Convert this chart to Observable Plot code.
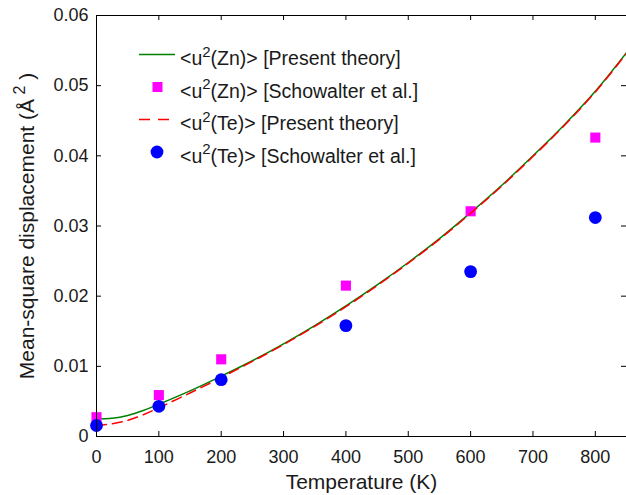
<!DOCTYPE html>
<html><head><meta charset="utf-8">
<script src="https://cdn.jsdelivr.net/npm/d3@7"></script>
<script src="https://cdn.jsdelivr.net/npm/@observablehq/plot@0.6"></script>
<style>
body{margin:0;background:#fff;}
#chart{position:relative;width:626px;height:495px;}
</style></head><body><div id="chart"></div>
<script>
// Theory curves
const temps    = [0, 25, 50, 75, 100, 150, 200, 250, 300, 350, 400, 450, 500, 550, 600, 650, 700, 750, 800, 850];
const znTheory = [0.0025, 0.0026, 0.0030, 0.0037, 0.0046, 0.0065, 0.0086, 0.0108, 0.0132, 0.0158, 0.0186, 0.0216, 0.0248, 0.0282, 0.0319, 0.0358, 0.0400, 0.0444, 0.0492, 0.0547];
const teTheory = [0.0016, 0.0018, 0.0023, 0.0031, 0.0041, 0.0062, 0.0084, 0.0107, 0.0131, 0.0157, 0.0185, 0.0215, 0.0247, 0.0281, 0.0318, 0.0357, 0.0399, 0.0443, 0.0491, 0.0546];
// Schowalter et al. points
const expTemps = [0, 100, 200, 400, 600, 800];
const znExp    = [0.00275, 0.0059, 0.0110, 0.0215, 0.0321, 0.0426];
const teExp    = [0.00157, 0.0043, 0.0081, 0.0158, 0.0235, 0.0312];
// ticks & labels
const xTicks = [0, 100, 200, 300, 400, 500, 600, 700, 800];
const yTicks = [0, 0.01, 0.02, 0.03, 0.04, 0.05, 0.06];
const xLabel = "Temperature (K)";
const yLabelParts = ["Mean-square displacement (Å", " 2", " )"];
const legendItems = [
  {pre: "<u", sup: "2", post: "(Zn)> [Present theory]", kind: "line", color: "#008000"},
  {pre: "<u", sup: "2", post: "(Zn)> [Schowalter et al.]", kind: "square", color: "#ff00ff"},
  {pre: "<u", sup: "2", post: "(Te)> [Present theory]", kind: "dash", color: "#ff0000"},
  {pre: "<u", sup: "2", post: "(Te)> [Schowalter et al.]", kind: "circle", color: "#0000ff"}
];

const znLine = temps.map((t, i) => ({t, v: znTheory[i]}));
const teLine = temps.map((t, i) => ({t, v: teTheory[i]}));
const znPts = expTemps.map((t, i) => ({t, v: znExp[i]}));
const tePts = expTemps.map((t, i) => ({t, v: teExp[i]}));

const W = 626, H = 495, mL = 96, mR = 0, mT = 15, mB = 59;
const pw = W - mL - mR, ph = H - mT - mB, tk = 5;

const plot = Plot.plot({
  width: W, height: H,
  marginLeft: mL, marginRight: mR, marginTop: mT, marginBottom: mB,
  style: {fontFamily: "'Liberation Sans', Arial, sans-serif", fontSize: "18px", background: "#fff", color: "#000"},
  x: {domain: [0, 850]},
  y: {domain: [0, 0.06]},
  marks: [
    Plot.lineY(znLine, {x: "t", y: "v", stroke: "#008000", strokeWidth: 1.5, curve: "catmull-rom"}),
    Plot.dot(znPts, {x: "t", y: "v", symbol: "square", r: 5.7, fill: "#ff00ff", stroke: "none"}),
    Plot.lineY(teLine, {x: "t", y: "v", stroke: "#ff0000", strokeWidth: 1.5, strokeDasharray: "10,6", curve: "catmull-rom"}),
    Plot.dot(tePts, {x: "t", y: "v", symbol: "circle", r: 6.4, fill: "#0000ff", stroke: "none"}),
    Plot.tickX(xTicks, {x: d => d, insetTop: ph - tk, stroke: "#000"}),
    Plot.tickX(xTicks, {x: d => d, insetBottom: ph - tk, stroke: "#000"}),
    Plot.tickY(yTicks, {y: d => d, insetRight: pw - tk, stroke: "#000"}),
    Plot.tickY(yTicks, {y: d => d, insetLeft: pw - tk, stroke: "#000"}),
    Plot.frame({stroke: "#000", strokeWidth: 1}),
    Plot.axisX({ticks: xTicks, tickSize: 0, tickPadding: 14, label: null, fill: "#1a1a1a"}),
    Plot.axisY({ticks: yTicks, tickSize: 0, tickPadding: 8, label: null, fill: "#1a1a1a",
      tickFormat: d => d === 0 ? "0" : d.toFixed(2)}),
    Plot.text([xLabel], {frameAnchor: "bottom", textAnchor: "middle", lineAnchor: "top", dy: 38, fontSize: 21, fill: "#1a1a1a"}),
    Plot.text([yLabelParts.join("")], {frameAnchor: "left", textAnchor: "middle", rotate: -90, lineAnchor: "top", dx: -77, fontSize: 21, fill: "#1a1a1a"})
  ]
});
document.getElementById("chart").appendChild(plot);

const svg = d3.select(plot);
// superscript in y label
svg.selectAll("text").filter(function() { return this.textContent === yLabelParts.join(""); })
  .each(function() {
    const t = d3.select(this);
    t.text(null);
    t.append("tspan").text(yLabelParts[0]);
    t.append("tspan").attr("dy", -9).attr("font-size", 16).text(yLabelParts[1]);
    t.append("tspan").attr("dy", 9).text(yLabelParts[2]);
  });

// legend
const lg = svg.append("g").attr("font-size", 19.5).attr("fill", "#1a1a1a").attr("text-anchor", "start");
const rowBase = 65, rowStep = 32.5;
legendItems.forEach((d, i) => {
  const yb = rowBase + i * rowStep, ym = yb - 10.5;
  if (d.kind === "line") lg.append("line").attr("x1", 139).attr("x2", 175).attr("y1", ym).attr("y2", ym).attr("stroke", d.color).attr("stroke-width", 1.5);
  if (d.kind === "dash") lg.append("line").attr("x1", 139).attr("x2", 172).attr("y1", ym).attr("y2", ym).attr("stroke", d.color).attr("stroke-width", 1.5).attr("stroke-dasharray", "11,8");
  if (d.kind === "square") lg.append("rect").attr("x", 152.5).attr("y", ym - 5).attr("width", 10).attr("height", 10).attr("fill", d.color);
  if (d.kind === "circle") lg.append("circle").attr("cx", 157).attr("cy", ym).attr("r", 6.4).attr("fill", d.color);
  const t = lg.append("text").attr("x", 180).attr("y", yb).attr("text-anchor", "start");
  t.append("tspan").text(d.pre);
  t.append("tspan").attr("dy", -8.5).attr("font-size", 15).text(d.sup);
  t.append("tspan").attr("dy", 8.5).text(d.post);
});
</script>
</body></html>
